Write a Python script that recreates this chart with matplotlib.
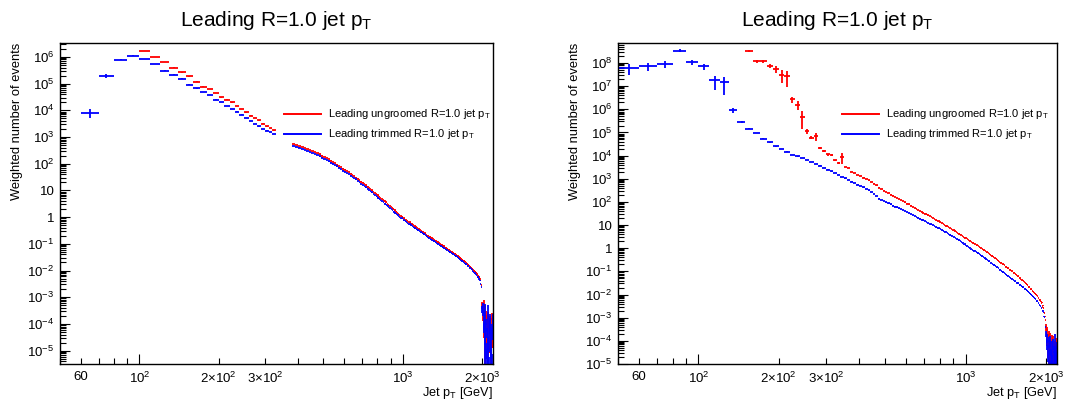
import numpy as np
import matplotlib
matplotlib.use("Agg")
import matplotlib.pyplot as plt
from matplotlib.ticker import FixedLocator, FuncFormatter, NullFormatter

plt.rcParams['font.family'] = ['Liberation Sans', 'DejaVu Sans']
plt.rcParams['mathtext.fontset'] = 'custom'
plt.rcParams['mathtext.rm'] = 'Liberation Sans'
plt.rcParams['mathtext.it'] = 'Liberation Sans:italic'

nan = float('nan')

# histogram binning: 10 GeV bins, 50 -> 2200 GeV
bin_edges = np.arange(50, 2201, 10)

# log10(weighted events) per bin (nan = empty bin)
left_ungroomed = [
    nan, nan, nan, nan, nan, 6.22, 6.00, 5.81, 5.60, 5.42,
    5.27, 5.07, 4.89, 4.79, 4.64, 4.48, 4.40, 4.30, 4.17, 4.05,
    3.92, 3.80, 3.71, 3.62, 3.50, 3.40, 3.34, 3.25, nan, nan,
    nan, nan, nan, 2.74, 2.70, 2.67, 2.63, 2.59, 2.56, 2.52,
    2.48, 2.44, 2.40, 2.35, 2.30, 2.26, 2.21, 2.17, 2.12, 2.07,
    2.03, 1.97, 1.92, 1.87, 1.82, 1.78, 1.73, 1.68, 1.63, 1.58,
    1.54, 1.48, 1.44, 1.38, 1.33, 1.29, 1.24, 1.19, 1.14, 1.10,
    1.05, 1.00, 0.95, 0.90, 0.85, 0.81, 0.77, 0.72, 0.68, 0.63,
    0.59, 0.55, 0.50, 0.46, 0.42, 0.37, 0.33, 0.29, 0.25, 0.21,
    0.16, 0.12, 0.08, 0.05, 0.02, -0.03, -0.05, -0.10, -0.11, -0.15,
    -0.19, -0.20, -0.24, -0.27, -0.30, -0.33, -0.35, -0.38, -0.41, -0.44,
    -0.46, -0.49, -0.51, -0.54, -0.56, -0.59, -0.61, -0.64, -0.66, -0.69,
    -0.71, -0.73, -0.76, -0.78, -0.80, -0.82, -0.85, -0.87, -0.89, -0.91,
    -0.93, -0.95, -0.98, -1.00, -1.02, -1.04, -1.06, -1.08, -1.10, -1.12,
    -1.14, -1.16, -1.18, -1.20, -1.22, -1.24, -1.26, -1.28, -1.30, -1.31,
    -1.33, -1.35, -1.37, -1.39, -1.41, -1.43, -1.45, -1.47, -1.49, -1.51,
    -1.53, -1.55, -1.57, -1.59, -1.61, -1.63, -1.65, -1.67, -1.69, -1.71,
    -1.73, -1.76, -1.78, -1.80, -1.83, -1.85, -1.88, -1.90, -1.93, -1.95,
    -1.98, -2.00, -2.03, -2.05, -2.08, -2.11, -2.14, -2.17, -2.20, -2.23,
    -2.26, -2.30, -2.36, -2.55, -2.95, -3.30, -3.60, -3.25, -4.00, -3.45,
    -3.80, -4.30, -3.70, -4.60, -3.90, -4.20, -3.75, -4.80, -4.10, -3.95,
    -5.10, -4.40, -3.80, -4.60, -4.20,
]
left_trimmed = [
    nan, 3.90, 5.29, 5.89, 6.05, 5.93, 5.74, 5.49, 5.34, 5.19,
    4.96, 4.82, 4.69, 4.58, 4.40, 4.32, 4.17, 4.05, 3.95, 3.84,
    3.71, 3.59, 3.49, 3.40, 3.30, 3.24, 3.18, 3.11, nan, nan,
    nan, nan, nan, 2.67, 2.63, 2.60, 2.55, 2.52, 2.48, 2.44,
    2.40, 2.36, 2.32, 2.27, 2.23, 2.18, 2.14, 2.09, 2.04, 2.00,
    1.95, 1.90, 1.85, 1.80, 1.74, 1.70, 1.65, 1.61, 1.55, 1.51,
    1.46, 1.41, 1.36, 1.31, 1.25, 1.21, 1.16, 1.11, 1.07, 1.02,
    0.97, 0.93, 0.87, 0.83, 0.78, 0.73, 0.69, 0.65, 0.60, 0.56,
    0.51, 0.47, 0.43, 0.38, 0.34, 0.30, 0.26, 0.21, 0.17, 0.13,
    0.09, 0.05, 0.01, -0.03, -0.05, -0.10, -0.12, -0.16, -0.18, -0.22,
    -0.25, -0.27, -0.31, -0.33, -0.36, -0.39, -0.42, -0.44, -0.47, -0.50,
    -0.52, -0.55, -0.57, -0.60, -0.62, -0.65, -0.67, -0.70, -0.72, -0.75,
    -0.77, -0.79, -0.82, -0.84, -0.86, -0.88, -0.91, -0.93, -0.95, -0.97,
    -0.99, -1.01, -1.04, -1.06, -1.08, -1.10, -1.12, -1.14, -1.16, -1.18,
    -1.20, -1.22, -1.24, -1.26, -1.28, -1.30, -1.32, -1.34, -1.36, -1.37,
    -1.39, -1.41, -1.43, -1.45, -1.47, -1.49, -1.51, -1.53, -1.55, -1.57,
    -1.59, -1.61, -1.63, -1.65, -1.67, -1.69, -1.71, -1.73, -1.75, -1.77,
    -1.79, -1.82, -1.84, -1.86, -1.89, -1.91, -1.94, -1.96, -1.99, -2.01,
    -2.04, -2.06, -2.09, -2.11, -2.14, -2.17, -2.20, -2.23, -2.26, -2.29,
    -2.33, -2.38, -2.50, -2.62, -3.10, -3.45, -3.40, -4.10, -3.70, -4.50,
    -3.55, -4.90, -4.00, -5.20, -4.30, -3.60, -4.70, -5.40, -4.05, -3.85,
    -5.00, -4.50, -4.20, -5.30, -3.90,
]
right_ungroomed = [
    nan, nan, nan, nan, nan, nan, nan, nan, nan, nan,
    8.53, 8.07, 8.07, 7.88, 7.74, 7.50, 7.42, 6.44, 6.20, 5.69,
    5.05, 4.78, 4.83, 4.33, 4.22, 4.05, 4.03, 3.79, 3.68, 3.94,
    3.50, 3.46, 3.29, 3.24, 3.17, 3.12, 3.05, 2.99, 2.93, 2.86,
    2.79, 2.71, 2.62, 2.55, 2.49, 2.43, 2.38, 2.32, 2.27, 2.22,
    2.17, 2.12, 2.08, 2.03, 1.98, 1.93, 1.89, 1.84, 1.79, 1.75,
    1.71, 1.66, 1.62, 1.58, 1.54, 1.50, 1.46, 1.42, 1.38, 1.34,
    1.31, 1.27, 1.23, 1.19, 1.16, 1.12, 1.08, 1.05, 1.01, 0.98,
    0.94, 0.91, 0.87, 0.84, 0.80, 0.77, 0.73, 0.70, 0.66, 0.63,
    0.59, 0.56, 0.52, 0.49, 0.46, 0.43, 0.40, 0.36, 0.33, 0.30,
    0.27, 0.24, 0.21, 0.18, 0.15, 0.12, 0.09, 0.06, 0.03, 0.00,
    -0.03, -0.06, -0.09, -0.12, -0.15, -0.18, -0.21, -0.24, -0.27, -0.30,
    -0.32, -0.35, -0.38, -0.41, -0.44, -0.47, -0.50, -0.53, -0.56, -0.59,
    -0.62, -0.65, -0.68, -0.70, -0.73, -0.76, -0.79, -0.81, -0.84, -0.87,
    -0.89, -0.92, -0.94, -0.97, -0.99, -1.03, -1.05, -1.08, -1.11, -1.14,
    -1.16, -1.19, -1.22, -1.24, -1.27, -1.31, -1.34, -1.36, -1.39, -1.42,
    -1.45, -1.47, -1.50, -1.53, -1.56, -1.60, -1.63, -1.66, -1.69, -1.72,
    -1.75, -1.78, -1.81, -1.84, -1.87, -1.90, -1.93, -1.96, -2.00, -2.03,
    -2.06, -2.10, -2.14, -2.18, -2.22, -2.26, -2.30, -2.35, -2.41, -2.48,
    -2.56, -2.66, -2.78, -2.95, -3.10, -3.40, -3.90, -3.55, -4.20, -3.75,
    -4.00, -4.50, -3.85, -4.30, -4.70, -4.05, -4.40, -3.95, -4.60, -4.90,
    -4.20, -4.50, -4.10, -4.80, -4.35,
]
right_trimmed = [
    7.78, 7.86, 7.96, 8.53, 8.04, 7.86, 7.25, 7.16, 5.95, 5.45,
    5.17, 4.97, 4.74, 4.57, 4.40, 4.28, 4.17, 4.04, 3.97, 3.91,
    3.80, 3.72, 3.64, 3.57, 3.47, 3.40, 3.32, 3.24, 3.16, 3.09,
    3.02, 2.95, 2.88, 2.82, 2.75, 2.69, 2.63, 2.57, 2.50, 2.43,
    2.35, 2.25, 2.14, 2.08, 2.03, 1.98, 1.94, 1.89, 1.84, 1.80,
    1.76, 1.72, 1.69, 1.65, 1.61, 1.56, 1.52, 1.48, 1.44, 1.40,
    1.36, 1.32, 1.28, 1.24, 1.20, 1.17, 1.13, 1.10, 1.06, 1.03,
    1.00, 0.96, 0.93, 0.89, 0.86, 0.83, 0.79, 0.76, 0.72, 0.69,
    0.66, 0.62, 0.59, 0.55, 0.52, 0.48, 0.45, 0.41, 0.38, 0.34,
    0.30, 0.26, 0.24, 0.19, 0.17, 0.11, 0.10, 0.05, 0.03, -0.02,
    -0.04, -0.07, -0.10, -0.13, -0.16, -0.19, -0.22, -0.25, -0.29, -0.32,
    -0.35, -0.38, -0.41, -0.44, -0.48, -0.51, -0.54, -0.57, -0.60, -0.63,
    -0.65, -0.68, -0.71, -0.74, -0.77, -0.80, -0.83, -0.86, -0.89, -0.92,
    -0.95, -0.98, -1.01, -1.04, -1.07, -1.11, -1.13, -1.16, -1.18, -1.21,
    -1.23, -1.26, -1.28, -1.31, -1.33, -1.36, -1.38, -1.41, -1.43, -1.45,
    -1.48, -1.50, -1.52, -1.55, -1.57, -1.60, -1.62, -1.65, -1.67, -1.69,
    -1.72, -1.74, -1.77, -1.79, -1.82, -1.84, -1.87, -1.90, -1.93, -1.96,
    -1.99, -2.02, -2.05, -2.08, -2.11, -2.14, -2.17, -2.20, -2.23, -2.27,
    -2.30, -2.33, -2.37, -2.41, -2.45, -2.49, -2.53, -2.58, -2.63, -2.69,
    -2.76, -2.85, -2.95, -3.15, -3.40, -3.70, -4.10, -3.85, -4.40, -4.00,
    -4.70, -4.20, -3.95, -4.60, -5.00, -4.30, -4.80, -4.10, -4.50, -5.20,
    -4.40, -4.00, -4.70, -4.90, -4.30,
]

# relative errors of the first bins of each series (the rest are tiny)
left_trimmed_err_head = [0.0, 0.35, 0.15, 0.05, 0.05]
right_trimmed_err_head = [0.5, 0.35, 0.3, 0.15, 0.25, 0.3, 0.6, 0.7, 0.25, 0.1]
right_ungroomed_err_head = [0.1, 0.15, 0.15, 0.2, 0.3, 0.55, 0.65, 0.3, 0.4, 0.7,
                            0.2, 0.15, 0.35, 0.1, 0.1, 0.1, 0.08, 0.08, 0.08, 0.5]
right_ungroomed_err_start = 155
# relative errors of the sparse bins above 2 TeV
tail_err = [0.3, 0.5, 0.4, 0.7, 0.5, 1.0, 0.6, 0.5, 0.8, 0.4,
            1.0, 0.6, 0.5, 0.9, 0.7, 0.5, 1.0, 0.6, 0.5, 0.8]

centers = 0.5 * (bin_edges[:-1] + bin_edges[1:])


def rel_errors(head, start):
    err = np.full(len(centers), 0.02)
    i0 = int((start - 55) // 10)
    err[i0:i0 + len(head)] = head
    err[-len(tail_err):] = tail_err
    return err


def draw_hist(ax, logvals, err, color):
    v = 10.0 ** np.array(logvals, dtype=float)
    ok = ~np.isnan(v)
    lo = v * np.minimum(err, 0.9999)
    hi = v * err
    ax.errorbar(centers[ok], v[ok], xerr=5, yerr=[lo[ok], hi[ok]], fmt='none',
                ecolor=color, elinewidth=1.3, capsize=0)


def ylabel_fmt(val, pos):
    e = int(round(np.log10(val)))
    if e == 0:
        return '1'
    if e == 1:
        return '10'
    return r'$\mathregular{10^{%d}}$' % e


xlabels = {60: '60', 100: r'$\mathregular{10^{2}}$', 200: r'$\mathregular{2{\times}10^{2}}$',
           300: r'$\mathregular{3{\times}10^{2}}$', 1000: r'$\mathregular{10^{3}}$',
           2000: r'$\mathregular{2{\times}10^{3}}$'}


def xlabel_fmt(val, pos):
    return xlabels.get(int(round(val)), '')


W, H = 1073, 405
fig = plt.figure(figsize=(W / 100, H / 100), dpi=100)

panels = [
    # (left px, right px, ylim, ungroomed, trimmed, errors)
    (60, 493, (10 ** -5.5, 10 ** 6.52), left_ungroomed, left_trimmed,
     rel_errors([], 55), rel_errors(left_trimmed_err_head, 55)),
    (618, 1057, (1e-5, 10 ** 8.865), right_ungroomed, right_trimmed,
     rel_errors(right_ungroomed_err_head, right_ungroomed_err_start),
     rel_errors(right_trimmed_err_head, 55)),
]

top_px, bot_px = 43, 364
for x0, x1, ylim, ungroomed, trimmed, err_u, err_t in panels:
    ax = fig.add_axes([x0 / W, 1 - bot_px / H, (x1 - x0) / W, (bot_px - top_px) / H])
    ax.set_xscale('log')
    ax.set_yscale('log')
    draw_hist(ax, ungroomed, err_u, '#ff0000')
    draw_hist(ax, trimmed, err_t, '#0000ff')
    ax.set_xlim(50, 2200)
    ax.set_ylim(*ylim)

    # decade ticks only inside the visible range
    e_lo = int(np.ceil(np.log10(ylim[0]) - 1e-9))
    e_hi = int(np.floor(np.log10(ylim[1])))
    majors = [10.0 ** e for e in range(e_lo, e_hi + 1)]
    minors = [m * 10.0 ** e for e in range(e_lo - 1, e_hi + 1) for m in range(2, 10)
              if ylim[0] <= m * 10.0 ** e <= ylim[1]]

    ax.xaxis.set_major_locator(FixedLocator([100, 1000]))
    ax.xaxis.set_minor_locator(FixedLocator([50, 60, 70, 80, 90, 200, 300, 400, 500,
                                             600, 700, 800, 900, 2000]))
    ax.xaxis.set_major_formatter(FuncFormatter(xlabel_fmt))
    ax.xaxis.set_minor_formatter(FuncFormatter(xlabel_fmt))
    ax.yaxis.set_major_locator(FixedLocator(majors))
    ax.yaxis.set_minor_locator(FixedLocator(minors))
    ax.yaxis.set_major_formatter(FuncFormatter(ylabel_fmt))
    ax.yaxis.set_minor_formatter(NullFormatter())
    ax.tick_params(which='both', direction='in', top=False, right=False,
                   labelsize=9.5, width=0.8, colors='black')
    ax.tick_params(axis='y', which='major', length=7, pad=4)
    ax.tick_params(axis='y', which='minor', length=4)
    ax.tick_params(axis='x', which='major', length=7, pad=5)
    ax.tick_params(axis='x', which='minor', length=4.5, pad=5)
    for s in ax.spines.values():
        s.set_linewidth(1.0)

    # title
    cx = (x0 + x1) / 2 / W
    fig.text(cx, 1 - 26 / H, r'Leading R=1.0 jet $\mathregular{p_T}$', ha='center',
             va='baseline', fontsize=15)
    # axis titles
    fig.text(x0 / W - 43 / W, 1 - 43 / H, 'Weighted number of events', rotation=90,
             ha='center', va='top', fontsize=9.3)
    fig.text(x1 / W, 1 - 396 / H, r'Jet $\mathregular{p_T}$ [GeV]', ha='right',
             va='baseline', fontsize=9.2)

    # legend
    lx0, lx1, tx = x0 + 224, x0 + 261, x0 + 268
    for row_y, color, label in [(114, '#ff0000', 'Leading ungroomed R=1.0 jet'),
                                (134, '#0000ff', 'Leading trimmed R=1.0 jet')]:
        fy = 1 - row_y / H
        fig.add_artist(plt.Line2D([lx0 / W, lx1 / W], [fy, fy], color=color, lw=1.4))
        fig.text(tx / W, fy, label + r' $\mathregular{p_T}$', ha='left', va='center',
                 fontsize=8.0)

fig.savefig('out.png', dpi=100)
